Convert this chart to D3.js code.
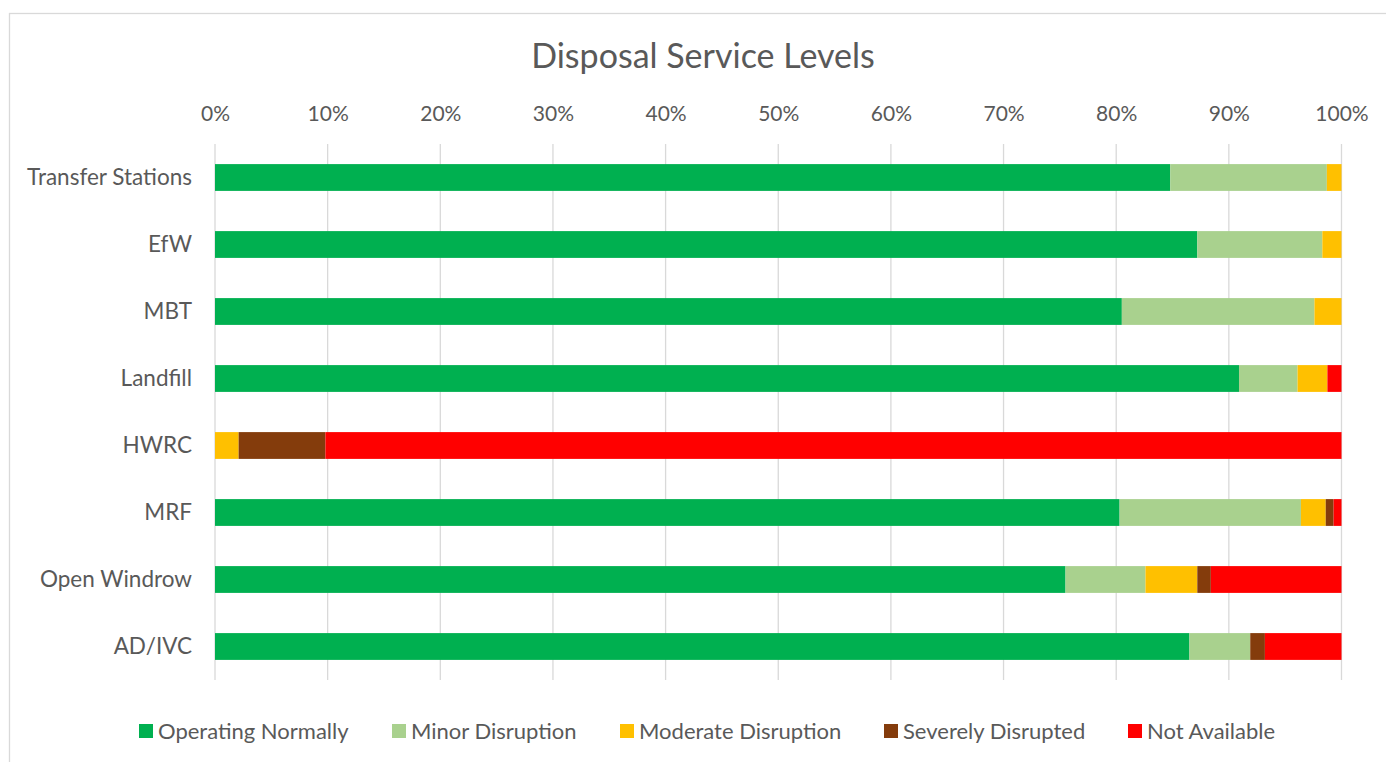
<!DOCTYPE html>
<html>
<head>
<meta charset="utf-8">
<script src="https://cdn.jsdelivr.net/npm/d3@7"></script>
<style>
    body { margin: 0; background: #fff; }
    svg { display: block; }
    text { font-family: Lato, "Open Sans", sans-serif; fill: #595959; }
</style>
</head>
<body>
<svg id="chart" width="1386" height="762"></svg>
<script>
// categories, top to bottom
var categories = ['Transfer Stations', 'EfW', 'MBT', 'Landfill', 'HWRC', 'MRF', 'Open Windrow', 'AD/IVC'];

// series (percent of sites)
var seriesNames = ['Operating Normally', 'Minor Disruption', 'Moderate Disruption', 'Severely Disrupted', 'Not Available'];
var operatingNormally  = [84.8, 87.2, 80.5, 90.9, 0,    80.3, 75.5, 86.5];
var minorDisruption    = [13.9, 11.1, 17.1, 5.2,  0,    16.1, 7.1,  5.4];
var moderateDisruption = [1.3,  1.7,  2.4,  2.65, 2.1,  2.2,  4.6,  0];
var severelyDisrupted  = [0,    0,    0,    0,    7.7,  0.7,  1.2,  1.3];
var notAvailable       = [0,    0,    0,    1.25, 90.2, 0.7,  11.6, 6.8];
var seriesColors = ['#00b050', '#a9d18e', '#ffc000', '#843c0c', '#ff0000'];

var tickValues = [0, 0.1, 0.2, 0.3, 0.4, 0.5, 0.6, 0.7, 0.8, 0.9, 1];

var svg = d3.select('#chart');

// chart frame
svg.append('rect')
    .attr('x', 9.5)
    .attr('y', 13.5)
    .attr('width', 1400)
    .attr('height', 800)
    .attr('fill', '#fff')
    .attr('stroke', '#d9d9d9')
    .attr('stroke-width', 1.3);

// title
svg.append('text')
    .attr('x', 703)
    .attr('y', 68)
    .attr('text-anchor', 'middle')
    .style('font-size', '34px')
    .text('Disposal Service Levels');

var x = d3.scaleLinear().domain([0, 1]).range([215, 1341.5]);
var y = d3.scaleBand().domain(categories).range([144, 680]).paddingInner(0.6).paddingOuter(0.3);

// rows -> normalised stack
var rows = categories.map(function (c, i) {
    var r = { category: c };
    r[seriesNames[0]] = operatingNormally[i];
    r[seriesNames[1]] = minorDisruption[i];
    r[seriesNames[2]] = moderateDisruption[i];
    r[seriesNames[3]] = severelyDisrupted[i];
    r[seriesNames[4]] = notAvailable[i];
    return r;
});
var stack = d3.stack().keys(seriesNames).offset(d3.stackOffsetExpand);
var layers = stack(rows);

// gridlines + top axis labels
var xAxis = d3.axisTop(x)
    .tickValues(tickValues)
    .tickFormat(d3.format('.0%'))
    .tickSize(0)
    .tickPadding(0);

var gGrid = svg.append('g');
gGrid.selectAll('line')
    .data(tickValues)
    .enter()
    .append('line')
    .attr('x1', function (d) { return x(d); })
    .attr('x2', function (d) { return x(d); })
    .attr('y1', 144)
    .attr('y2', 680)
    .attr('stroke', '#d9d9d9')
    .attr('stroke-width', 1.3);

var gx = svg.append('g')
    .attr('transform', 'translate(0,121)')
    .call(xAxis);
gx.select('.domain').remove();
gx.selectAll('text')
    .style('font-size', '21px')
    .style('font-family', 'Lato, "Open Sans", sans-serif')
    .attr('fill', '#595959')
    .attr('dy', 0);

// bars
var gLayers = svg.append('g')
    .selectAll('g')
    .data(layers)
    .enter()
    .append('g')
    .attr('fill', function (d, i) { return seriesColors[i]; });

gLayers.selectAll('rect')
    .data(function (d) { return d; })
    .enter()
    .append('rect')
    .attr('x', function (d) { return x(d[0]); })
    .attr('width', function (d) { return x(d[1]) - x(d[0]); })
    .attr('y', function (d) { return y(d.data.category); })
    .attr('height', y.bandwidth());

// category labels
var yAxis = d3.axisLeft(y).tickSize(0).tickPadding(0);
var gy = svg.append('g')
    .attr('transform', 'translate(192,0)')
    .call(yAxis);
gy.select('.domain').remove();
gy.selectAll('text')
    .style('font-size', '22.5px')
    .style('font-family', 'Lato, "Open Sans", sans-serif')
    .attr('fill', '#595959');

// legend
var legendX = [139, 392, 620, 884, 1128];
var legend = svg.append('g')
    .selectAll('g')
    .data(seriesNames)
    .enter()
    .append('g')
    .attr('transform', function (d, i) { return 'translate(' + legendX[i] + ',724)'; });

legend.append('rect')
    .attr('width', 14)
    .attr('height', 14)
    .attr('fill', function (d, i) { return seriesColors[i]; });

legend.append('text')
    .attr('x', 19)
    .attr('y', 14.5)
    .style('font-size', '22px')
    .text(function (d) { return d; });
</script>
</body>
</html>
